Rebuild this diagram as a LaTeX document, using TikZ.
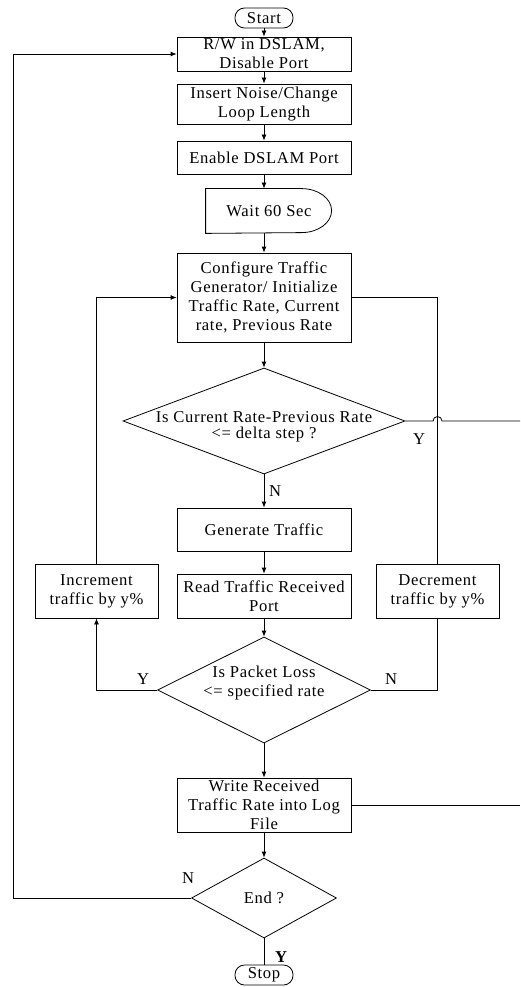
\documentclass[tikz,border=0pt]{standalone}
\usepackage{fontspec}
\setmainfont[LetterSpace=4]{Liberation Serif}
\usetikzlibrary{shapes.geometric, arrows.meta}
\tikzstyle{startstop} = [
    rectangle,
    rounded corners=9.5pt,
    minimum width=58pt,
    minimum height=20pt,
    inner sep=0pt,
    draw=black
]
\tikzstyle{process} = [
    rectangle,
    minimum width=174pt,
    inner sep=0pt,
    align=center,
    draw=black
]
\tikzstyle{decision} = [
    diamond,
    inner sep=0pt,
    draw=black
]
\tikzstyle{arrow} = [-{Latex[length=6pt,width=5pt]}]

\begin{document}
\begin{tikzpicture}[x=1pt, y=1pt, line width=0.8pt,
    font=\fontsize{16.6}{19}\selectfont]
\useasboundingbox (0,0) rectangle (520,-987);

\node (start) [startstop] at (264,-18) {Start};

\node (rw) [process, minimum height=34pt, node distance=36pt, below of=start]
{R/W in DSLAM,\\
Disable Port};

\node (insert) [process, minimum height=40pt, node distance=50pt, below of=rw]
{Insert Noise/Change\\
Loop Length};

\node (enable) [process, minimum height=33pt, node distance=53.5pt, below of=insert]
{Enable DSLAM Port};

\node (wait) [minimum width=126pt, minimum height=44pt, inner sep=0pt,
    node distance=53.5pt, below of=enable, xshift=5pt]
{Wait 60 Sec};
\draw (wait.north west) -- ++(96pt,0)
    arc[start angle=90, end angle=-90, x radius=30pt, y radius=22pt]
    -- (wait.south west) -- cycle;

\node (config) [process, minimum height=89pt, at={(264,-297.5)}]
{Configure Traffic\\
Generator/ Initialize\\
Traffic Rate, Current\\
rate, Previous Rate};

\node (check) [decision, minimum width=282pt, minimum height=106pt,
    node distance=123.5pt, below of=config,
    label={[align=center, yshift=-6pt, font=\fontsize{16.6}{16.5}\selectfont]center:Is Current Rate-Previous Rate\\<= delta step ?}]
{};

\node (generate) [process, minimum height=43pt, node distance=108.5pt, below of=check]
{Generate Traffic};

\node (read) [process, minimum height=44pt, node distance=66.5pt, below of=generate]
{Read Traffic Received\\
Port};

\node (incr) [process, minimum width=123pt, minimum height=54pt] at (96.5,-591)
{Increment\\
traffic by y\%};

\node (decr) [process, minimum width=123pt, minimum height=54pt] at (437.5,-591)
{Decrement\\
traffic by y\%};

\node (loss) [decision, minimum width=213pt, minimum height=106pt,
    node distance=94pt, below of=read,
    label={[align=center, yshift=7pt, font=\fontsize{16.6}{18}\selectfont]center:Is Packet Loss\\<= specified rate}]
{};

\node (write) [process, minimum height=54pt, node distance=115pt, below of=loss]
{Write Received\\
Traffic Rate into Log\\
File};

\node (endq) [decision, minimum width=145pt, minimum height=80pt,
    node distance=93pt, below of=write]
{End ?};

\node (stop) [startstop, node distance=77pt, below of=endq]
{Stop};

\coordinate (exitA) at (520,-421);
\coordinate (exitB) at (520,-805);

% Labels
\node (ycheck) at (419,-439) {Y};
\node (ncheck) at (275,-491) {N};
\node (yloss) at (143,-679) {Y};
\node (nloss) at (391,-679) {N};
\node (nend) at (188,-878) {N};
\node (yend) at (281,-957) {\bfseries Y};

% Arrows
\draw [arrow] (start) -- (rw);
\draw [arrow] (rw) -- (insert);
\draw [arrow] (insert) -- (enable);
\draw [arrow] (enable) -- (enable |- wait.north);
\draw [arrow] (config |- wait.south) -- (config);
\draw [arrow] (config) -- (check);
\draw [arrow] (check) -- (generate);
\draw [arrow] (generate) -- (read);
\draw [arrow] (read) -- (loss);
\draw [arrow] (loss) -- (write);
\draw [arrow] (write) -- (endq);
\draw (endq) -- (stop);

\draw [arrow] (loss.west) -| (incr.south);
\draw [arrow] (incr.north) |- (config.west);
\draw (config.east) -| (decr.north);
\draw (decr.south) |- (loss.east);
\draw [arrow] (endq.west) -- ++(-178,0) |- (rw.west);

\draw (check.east) -- ([xshift=-4.5pt]decr.north |- check.east)
    arc[start angle=180, end angle=0, radius=4.5pt] -- (exitA);
\draw (write.east) -- (exitB);

\end{tikzpicture}
\end{document}
